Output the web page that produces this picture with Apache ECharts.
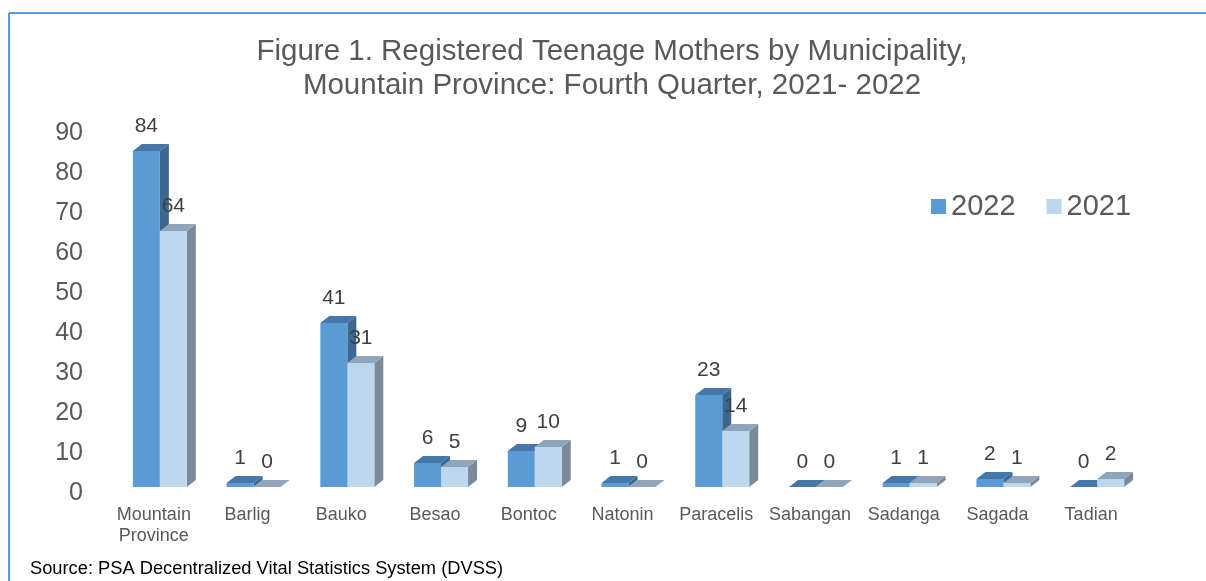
<!DOCTYPE html>
<html>
<head>
<meta charset="utf-8">
<script src="https://cdn.jsdelivr.net/npm/echarts@6/dist/echarts.min.js"></script>
<style>
html,body{margin:0;padding:0;background:#fff;}
#c{width:1206px;height:581px;}
</style>
</head>
<body>
<div id="c"></div>
<script>
const categories = ['Mountain\nProvince','Barlig','Bauko','Besao','Bontoc','Natonin','Paracelis','Sabangan','Sadanga','Sagada','Tadian'];
const values2022 = [84, 1, 41, 6, 9, 1, 23, 0, 1, 2, 0];
const values2021 = [64, 0, 31, 5, 10, 0, 14, 0, 1, 1, 2];
const yTicks = [0, 10, 20, 30, 40, 50, 60, 70, 80, 90];

const FONT = '"Liberation Sans", Arial, sans-serif';

function makeRender(sideIdx, front, topC, sideC) {
  return function (params, api) {
    const xi = api.value(0), v = api.value(1);
    const base = api.coord([xi, 0]);
    const top = api.coord([xi, v]);
    const band = api.size([1, 0])[0];
    const w = band * 0.288;
    const dx = 9, dy = 7;
    const x0 = sideIdx === 0 ? base[0] - w : base[0];
    const x1 = x0 + w;
    const yb = base[1], yt = top[1];
    return {
      type: 'group',
      children: [
        {type: 'polygon', shape: {points: [[x1, yb], [x1 + dx, yb - dy], [x1 + dx, yt - dy], [x1, yt]]}, style: {fill: sideC}},
        {type: 'polygon', shape: {points: [[x0, yt], [x0 + dx, yt - dy], [x1 + dx, yt - dy], [x1, yt]]}, style: {fill: topC}},
        {type: 'rect', shape: {x: x0, y: yt, width: w, height: yb - yt}, style: {fill: front}},
        {type: 'text', style: {text: String(v), x: (x0 + x1) / 2, y: yt - 25, align: 'center', verticalAlign: 'middle', font: '21px ' + FONT, fill: '#404040'}}
      ]
    };
  };
}

const chart = echarts.init(document.getElementById('c'), null, {renderer: 'canvas'});
chart.setOption({
  backgroundColor: '#ffffff',
  animation: false,
  title: {
    text: 'Figure 1. Registered Teenage Mothers by Municipality,\nMountain Province: Fourth Quarter, 2021- 2022',
    left: 612, top: 35, padding: 0, textAlign: 'center',
    textStyle: {fontFamily: FONT, fontSize: 29.5, fontWeight: 'normal', color: '#595959', lineHeight: 34}
  },
  legend: {
    data: ['2022', '2021'],
    left: 931, top: 192, itemWidth: 15, itemHeight: 15, itemGap: 31, icon: 'rect', padding: 0,
    textStyle: {fontFamily: FONT, fontSize: 29, color: '#595959'}
  },
  grid: {left: 113, right: 62, top: 127, bottom: 94, containLabel: false},
  xAxis: {
    type: 'category', data: categories,
    axisLine: {show: false}, axisTick: {show: false}, splitLine: {show: false},
    axisLabel: {fontFamily: FONT, fontSize: 18, color: '#595959', lineHeight: 21, margin: 18, padding: [0, 12, 0, 0], interval: 0}
  },
  yAxis: {
    type: 'value', min: yTicks[0], max: yTicks[yTicks.length - 1], interval: 10,
    axisLine: {show: false}, axisTick: {show: false}, splitLine: {show: false},
    axisLabel: {fontFamily: FONT, fontSize: 25, color: '#595959', margin: 30, verticalAlign: 'top', lineHeight: 12}
  },
  graphic: [
    {type: 'line', shape: {x1: 9, y1: 13, x2: 1206, y2: 13}, style: {stroke: '#5B9BD5', lineWidth: 2}},
    {type: 'line', shape: {x1: 9, y1: 13, x2: 9, y2: 581}, style: {stroke: '#5B9BD5', lineWidth: 2}},
    {type: 'text', left: 30, top: 560, style: {text: 'Source: PSA Decentralized Vital Statistics System (DVSS)', font: '18.3px ' + FONT, fill: '#000000'}}
  ],
  series: [
    {
      name: '2022', type: 'custom', itemStyle: {color: '#5B9BD5'},
      renderItem: makeRender(0, '#5B9BD5', '#4677A8', '#3B6790'),
      encode: {x: 0, y: 1},
      data: values2022.map((v, i) => [i, v])
    },
    {
      name: '2021', type: 'custom', itemStyle: {color: '#BDD7EE'},
      renderItem: makeRender(1, '#BDD7EE', '#8FA5BB', '#7B8A9B'),
      encode: {x: 0, y: 1},
      data: values2021.map((v, i) => [i, v])
    }
  ]
});
</script>
</body>
</html>
